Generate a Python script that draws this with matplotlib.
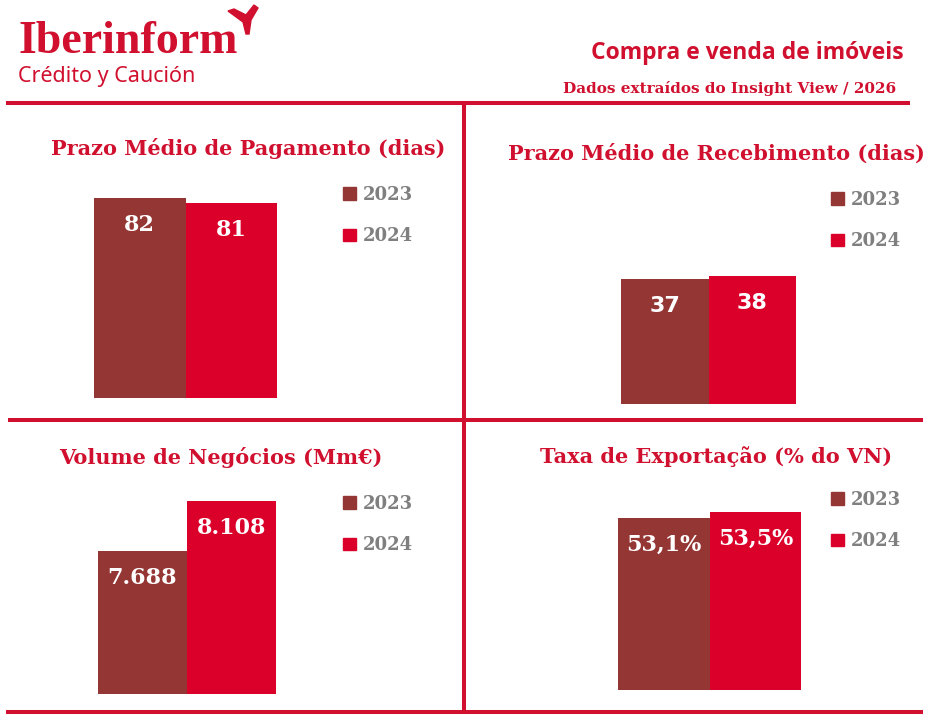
import matplotlib
matplotlib.use('Agg')
import matplotlib.pyplot as plt
from matplotlib.lines import Line2D
from matplotlib.patches import Patch, Polygon

# data
titles = ["Prazo Médio de Pagamento (dias)", "Prazo Médio de Recebimento (dias)",
          "Volume de Negócios (Mm€)", "Taxa de Exportação (% do VN)"]
years = ["2023", "2024"]
values_2023 = [82, 37, 7688, 53.1]
values_2024 = [81, 38, 8108, 53.5]
labels_2023 = ["82", "37", "7.688", "53,1%"]
labels_2024 = ["81", "38", "8.108", "53,5%"]

RED = '#D0102E'
C23 = '#943634'
C24 = '#DA0029'
GREY = '#7F7F7F'

W, H = 931, 722
fig = plt.figure(figsize=(W / 100, H / 100), dpi=100)


def fx(x):
    return x / W


def fy(y):
    return 1 - y / H


# axes boxes in pixels: left, right, top(of tallest bar), bottom ; plus y minimum
panels = [
    dict(box=(94, 277, 198, 398), ymin=38.5, title_xy=(248, 155), leg_xy=(343, 186),
         lab_font='DejaVu Serif'),
    dict(box=(621, 796, 276, 404), ymin=0, title_xy=(716, 160), leg_xy=(831, 191),
         lab_font='DejaVu Sans'),
    dict(box=(98, 276, 501, 694), ymin=6489, title_xy=(221, 464), leg_xy=(343, 495),
         lab_font='DejaVu Serif'),
    dict(box=(618, 801, 512, 690), ymin=41.0, title_xy=(716, 463), leg_xy=(831, 491),
         lab_font='DejaVu Serif'),
]

for i, p in enumerate(panels):
    l, r, t, b = p['box']
    ax = fig.add_axes([fx(l), fy(b), (r - l) / W, (b - t) / H])
    vals = [values_2023[i], values_2024[i]]
    labs = [labels_2023[i], labels_2024[i]]
    ax.bar([0, 1], vals, width=1.0, color=[C23, C24])
    ax.set_xlim(-0.5, 1.5)
    ax.set_ylim(p['ymin'], max(vals))
    ax.axis('off')
    for x, v, s in zip([0, 1], vals, labs):
        ax.annotate(s, (x, v), xytext=(0, -27), textcoords='offset pixels',
                    ha='center', va='center', color='white', fontsize=16,
                    fontweight='bold', family=p['lab_font'], annotation_clip=False)

    tx, ty = p['title_xy']
    fig.text(fx(tx), fy(ty), titles[i], ha='center', va='baseline', color=RED,
             fontsize=15, fontweight='bold', family='DejaVu Serif')

    handles = [Patch(color=C23, label=years[0]), Patch(color=C24, label=years[1])]
    lx, ly = p['leg_xy']
    leg = ax.legend(handles=handles, loc='upper left', bbox_to_anchor=(fx(lx), fy(ly)),
                    bbox_transform=fig.transFigure, frameon=False, borderpad=0,
                    handlelength=0.7, handleheight=0.7, handletextpad=0.4,
                    labelspacing=1.3, borderaxespad=0,
                    prop=dict(family='DejaVu Serif', weight='bold', size=13))
    for txt in leg.get_texts():
        txt.set_color(GREY)

# separator lines
lw = 2.9
for xs, ys in [((8, 908), (103, 103)), ((464, 464), (103, 712)),
               ((10, 921), (420, 420)), ((8, 921), (712, 712))]:
    fig.add_artist(Line2D([fx(xs[0]), fx(xs[1])], [fy(ys[0]), fy(ys[1])],
                          transform=fig.transFigure, color=RED, lw=lw))

# header
fig.text(fx(18), fy(53), "Iberinform", ha='left', va='baseline', color=RED,
         fontsize=33, fontweight='bold', family='Liberation Serif')
fig.text(fx(18), fy(82), "Crédito y Caución", ha='left', va='baseline', color=RED,
         fontsize=15.5, family='Noto Sans')
swoosh = [(228, 11), (234, 9), (246, 15), (254, 5), (258, 8), (251, 20),
          (249, 34), (246, 34), (243, 22)]
fig.add_artist(Polygon([(fx(a), fy(b)) for a, b in swoosh], closed=True,
                       transform=fig.transFigure, color=RED))

fig.text(fx(904), fy(59), "Compra e venda de imóveis", ha='right', va='baseline',
         color=RED, fontsize=16.5, fontweight='bold', family='Open Sans')
fig.text(fx(896), fy(93), "Dados extraídos do Insight View / 2026", ha='right',
         va='baseline', color=RED, fontsize=11, fontweight='bold', family='DejaVu Serif')

fig.savefig('out.png', dpi=100)
